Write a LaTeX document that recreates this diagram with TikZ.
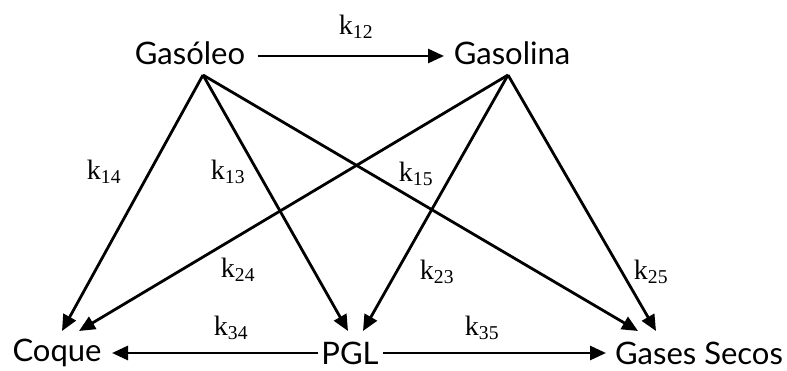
\documentclass[tikz,border=0pt]{standalone}
\usepackage{fontspec}
\setsansfont{Lato}
\setmainfont{Liberation Serif}
\usetikzlibrary{arrows.meta}
\newcommand{\rk}[1]{k\textsubscript{#1}}
\begin{document}
\begin{tikzpicture}[x=1pt,y=-1pt,
  species/.style={font=\sffamily\fontsize{31}{34}\selectfont, inner sep=0pt, anchor=center},
  rate/.style={font=\fontsize{28}{30}\selectfont, inner sep=0pt},
  flow/.style={line width=2.8pt, -{Triangle[length=16pt,width=14pt]}}]
  \useasboundingbox (0,0) rectangle (787,371);
  % species
  \node[species] (gasoleo)  at (190,53)  {Gasóleo};
  \node[species] (gasolina) at (512,53)  {Gasolina};
  \node[species] (coque)    at (57,353)  {Coque};
  \node[species] (pgl)      at (350,353) {PGL};
  \node[species] (gases)    at (699,353) {Gases Secos};
  % branching points and arrow tips
  \coordinate (go) at (203,75);
  \coordinate (gs) at (508,75);
  \coordinate (c1) at (62,331);
  \coordinate (c2) at (79,331);
  \coordinate (p1) at (348,331);
  \coordinate (p2) at (363,331);
  \coordinate (s1) at (638,331);
  \coordinate (s2) at (656,331);
  \coordinate (a1) at (258,56);
  \coordinate (a2) at (444,56);
  \coordinate (l1) at (318,353);
  \coordinate (l2) at (112,353);
  \coordinate (r1) at (383,353);
  \coordinate (r2) at (606,353);
  % reactions
  \draw[flow] (a1) -- (a2);
  \draw[flow] (go) -- (c1);
  \draw[flow] (go) -- (p1);
  \draw[flow] (go) -- (s1);
  \draw[flow] (gs) -- (c2);
  \draw[flow] (gs) -- (p2);
  \draw[flow] (gs) -- (s2);
  \draw[flow] (l1) -- (l2);
  \draw[flow] (r1) -- (r2);
  % rate constants
  \node[rate] (k12) at (356,27)  {\rk{12}};
  \node[rate] (k14) at (104,172) {\rk{14}};
  \node[rate] (k13) at (228,172) {\rk{13}};
  \node[rate] (k15) at (416,174) {\rk{15}};
  \node[rate] (k24) at (238,270) {\rk{24}};
  \node[rate] (k23) at (437,272) {\rk{23}};
  \node[rate] (k25) at (651,272) {\rk{25}};
  \node[rate] (k34) at (231,328) {\rk{34}};
  \node[rate] (k35) at (482,328) {\rk{35}};
\end{tikzpicture}
\end{document}
